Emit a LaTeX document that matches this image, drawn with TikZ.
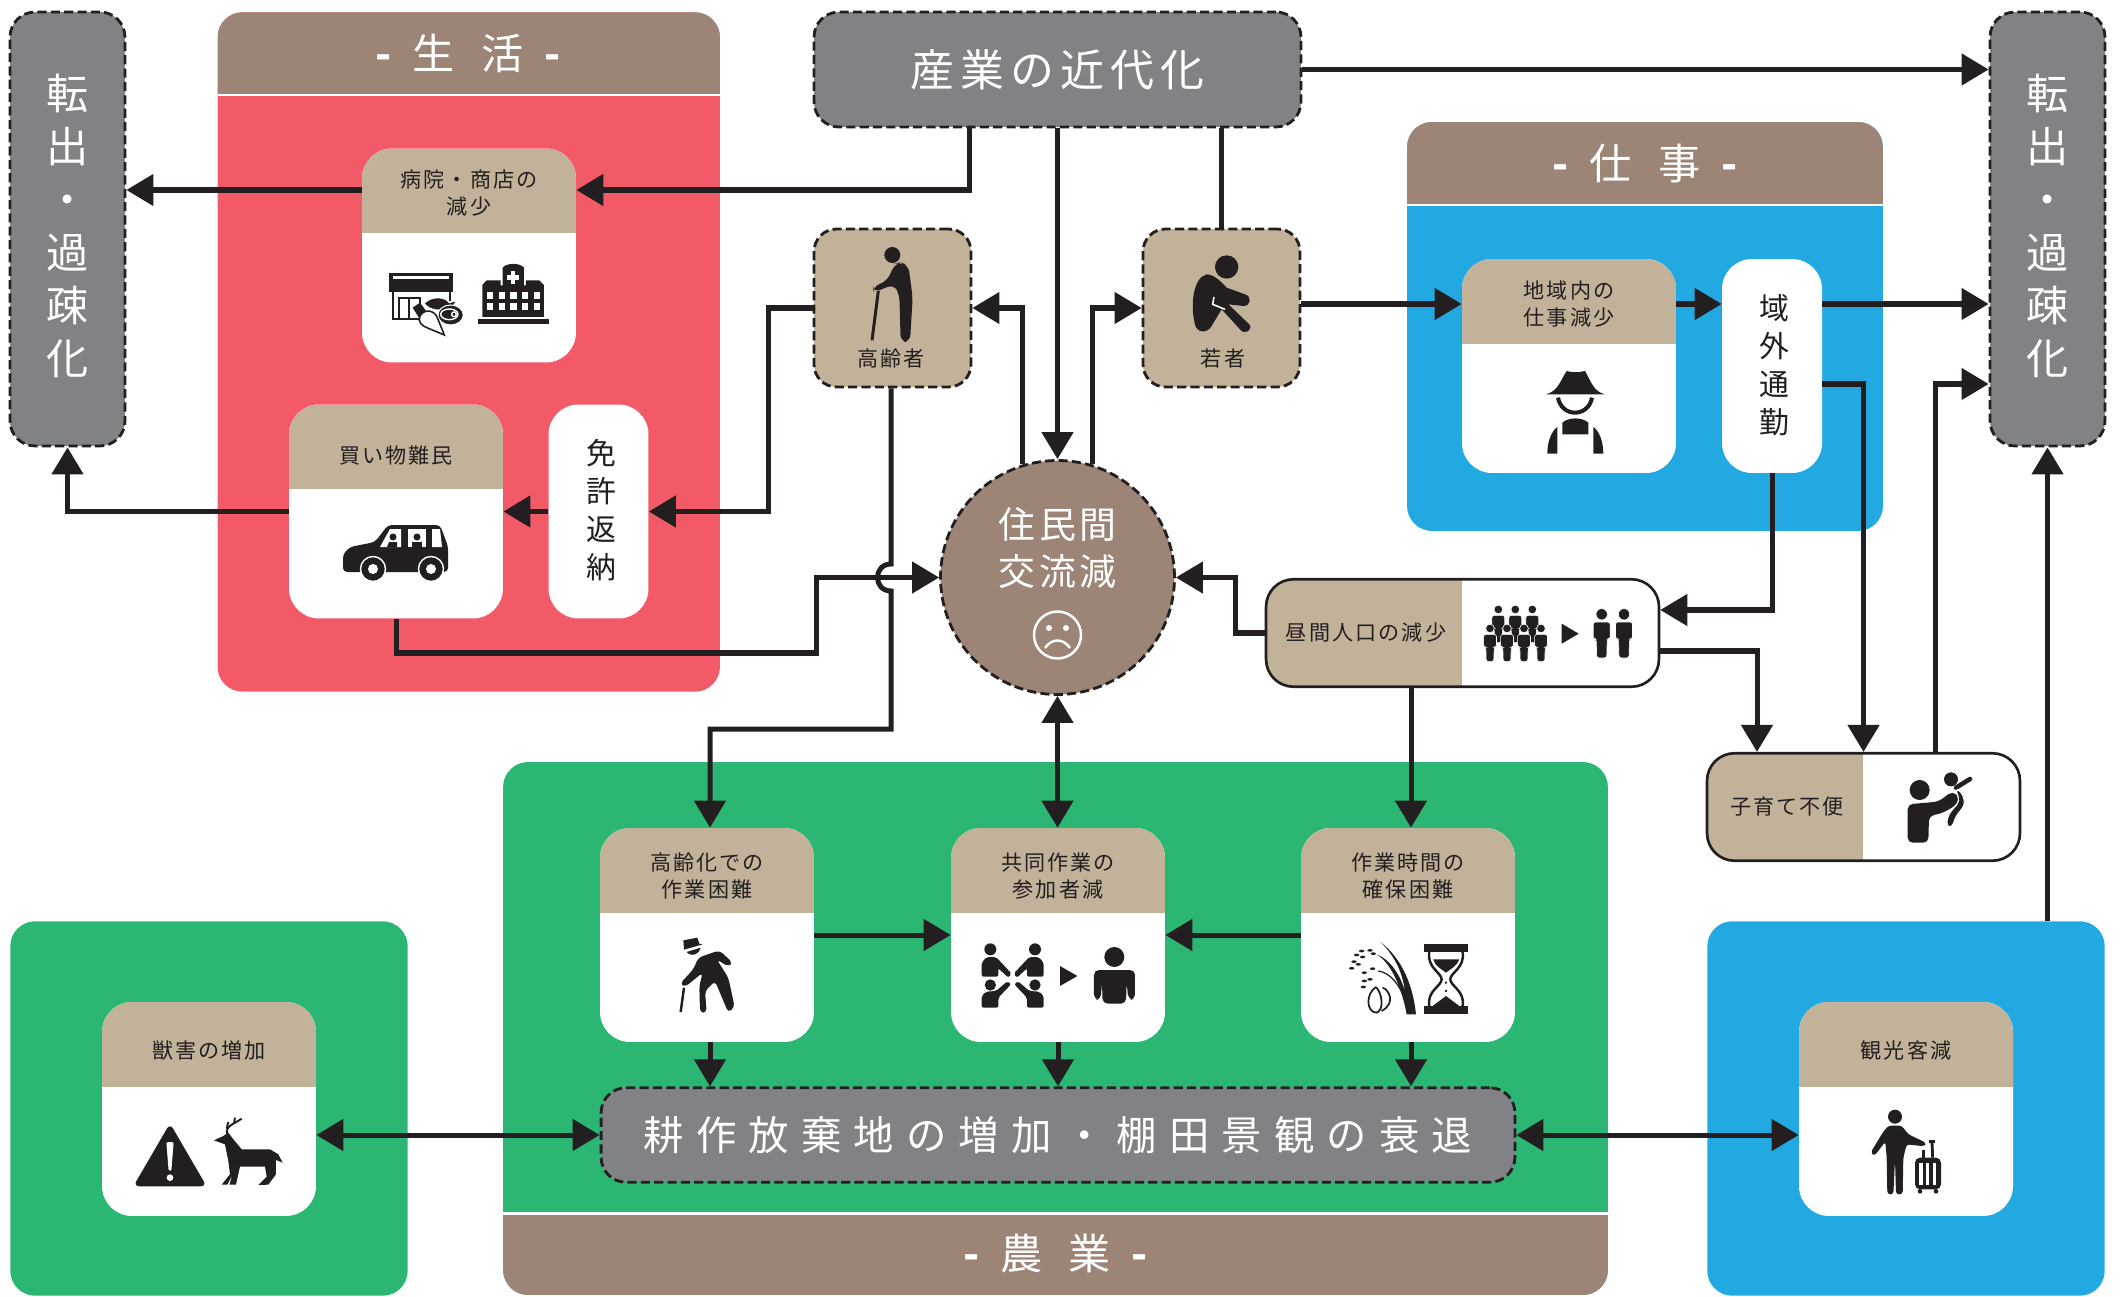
\documentclass[tikz,border=0pt]{standalone}
\usepackage{fontspec}
\setmainfont{Noto Sans CJK JP}
\usetikzlibrary{arrows.meta}

\definecolor{ink}{HTML}{231F20}
\definecolor{redbox}{HTML}{F25A67}
\definecolor{greenbox}{HTML}{2BB673}
\definecolor{bluebox}{HTML}{23A9E1}
\definecolor{bandbrown}{HTML}{9C8577}
\definecolor{cardtan}{HTML}{C2B299}
\definecolor{greybox}{HTML}{808285}

\newcommand{\jpfont}[2]{\fontsize{#1}{#2}\selectfont\addfontfeature{LetterSpace = 10}}
\newcommand{\bandline}[2]{{\bfseries -}\hspace{0.5em}#1\hspace{0.62em}#2\hspace{0.5em}{\bfseries -}}

\tikzset{
	wire/.style = {line width = 2.85pt, color = ink},
	panel/.style = {rectangle, rounded corners = 0.5cm, inner sep = 0},
	topband/.style = {path picture = {
		\fill [bandbrown, sharp corners] (path picture bounding box.north west) rectangle ([yshift = -1.63cm] path picture bounding box.north east);
		\fill [white, sharp corners] ([yshift = -1.63cm] path picture bounding box.north west) rectangle ([yshift = -1.68cm] path picture bounding box.north east);
	}},
	bottomband/.style = {path picture = {
		\fill [bandbrown, sharp corners] (path picture bounding box.south west) rectangle ([yshift = 1.6cm] path picture bounding box.south east);
		\fill [white, sharp corners] ([yshift = 1.6cm] path picture bounding box.south west) rectangle ([yshift = 1.66cm] path picture bounding box.south east);
	}},
	card/.style = {rectangle, rounded corners = 0.6cm, inner sep = 0, fill = white, minimum width = 4.28cm, minimum height = 4.28cm, path picture = {
		\fill [cardtan, sharp corners] (path picture bounding box.north west) rectangle ([yshift = -1.69cm] path picture bounding box.north east);
	}},
	slim/.style = {rectangle, rounded corners = 0.6cm, inner sep = 0, fill = white, minimum width = 2cm, minimum height = 4.28cm},
	slimtext/.style = {text = ink, align = center, inner sep = 0, font = \jpfont{17}{21.6}},
	cardtext/.style = {align = center, text = ink, inner sep = 0, font = \jpfont{12}{15.4}},
	bandtext/.style = {text = white, inner sep = 0, font = \jpfont{24}{28}},
	dashbox/.style = {draw = ink, line width = 1.6pt, dash pattern = on 5.2pt off 2.4pt, rounded corners = 0.5cm, inner sep = 0},
	greyflag/.style = {dashbox, rectangle, fill = greybox, text = white},
	exitbox/.style = {greyflag, minimum width = 2.3cm, minimum height = 8.68cm},
	exittext/.style = {text = white, align = center, inner sep = 0, font = \jpfont{24}{30.2}},
	persontag/.style = {dashbox, rectangle, fill = cardtan, minimum width = 3.14cm, minimum height = 3.16cm, rounded corners = 0.45cm},
	splitbox/.style = {rectangle, draw = ink, line width = 1.5pt, rounded corners = 0.55cm, inner sep = 0, fill = white, minimum height = 2.15cm, path picture = {
		\fill [cardtan, sharp corners] (path picture bounding box.north west) rectangle ([xshift = #1] path picture bounding box.south west);
	}},
	folk/.pic = {
		\fill [ink, draw = white, line width = 0.35pt] (0, -7.7) circle [radius = 5.7];
		\fill [ink, draw = white, line width = 0.35pt, rounded corners = 0.05cm] (-8.5, 0) -- (8.5, 0) -- (8.5, 17) -- (5.5, 17) -- (5, 36) -- (-5, 36) -- (-5.5, 17) -- (-8.5, 17) -- cycle;
	},
}

\begin{document}
\begin{tikzpicture}[x = 0.02cm, y = -0.02cm, > = {Triangle[length = 15.4pt, width = 17.6pt]}]

	\useasboundingbox (0, -1) rectangle (2123, 1296);

	% Coloured areas

	\node (seikatsu) [panel, fill = redbox, topband, minimum width = 10.05cm, minimum height = 13.59cm] at (468.75, 351) {};
	\node (shigoto) [panel, fill = bluebox, topband, minimum width = 9.52cm, minimum height = 8.18cm] at (1645, 325.5) {};
	\node (nougyou) [panel, fill = greenbox, bottomband, minimum width = 22.1cm, minimum height = 10.66cm] at (1055.5, 1027.5) {};
	\node (juugaiarea) [panel, fill = greenbox, minimum width = 7.95cm, minimum height = 7.49cm] at (209, 1107.5) {};
	\node (kankouarea) [panel, fill = bluebox, minimum width = 7.95cm, minimum height = 7.49cm] at (1906, 1107.5) {};

	\node (seikatsutext) [bandtext] at (468, 52.5) {\bandline{生}{活}};
	\node (shigototext) [bandtext] at (1645, 162.5) {\bandline{仕}{事}};
	\node (nougyoutext) [bandtext] at (1055.5, 1252.5) {\bandline{農}{業}};

	% Outcomes and causes

	\node (exitleft) [exitbox] at (67.5, 228) {};
	\node (exitright) [exitbox] at (2047.5, 228) {};
	\node (exitlefttext) [exittext] at (67.5, 225) {転\\出\\・\\過\\疎\\化};
	\node (exitrighttext) [exittext] at (2047.5, 225) {転\\出\\・\\過\\疎\\化};
	\node (sangyo) [greyflag, minimum width = 9.74cm, minimum height = 2.3cm, font = \jpfont{25}{30}] at (1057.5, 68.5) {\addfontfeature{LetterSpace = 14}産業の近代化};
	\node (kousaku) [greyflag, minimum width = 18.28cm, minimum height = 1.89cm, font = \jpfont{23}{28}] at (1058, 1134) {\addfontfeature{LetterSpace = 30}耕作放棄地の増加・棚田景観の衰退};
	\node (kouryuu) [dashbox, circle, fill = bandbrown, minimum size = 4.68cm] at (1057.5, 576.5) {};
	\node (kouryuutext) [text = white, align = center, inner sep = 0, font = \jpfont{21}{26.8}] at (1057.5, 547) {住民間\\交流減};

	% Sad face

	\draw [white, line width = 1.4pt] (1057.5, 634) circle [radius = 23.5];
	\fill [white] (1049, 627) circle [radius = 3];
	\fill [white] (1066, 627) circle [radius = 3];
	\draw [white, line width = 1.4pt] (1045, 647) .. controls (1052, 637) and (1063, 637) .. (1070, 647);

	% People

	\node (koureisha) [persontag] at (892.5, 307) {};
	\node (wakamono) [persontag] at (1221.5, 307) {};
	\node (koureishatext) [cardtext] at (891, 357) {高齢者};
	\node (wakamonotext) [cardtext] at (1223, 357) {若者};

	% Cards

	\node (hospital) [card] at (469, 254.5) {};
	\node (kaimono) [card] at (396, 510.5) {};
	\node (chiiki) [card] at (1569, 365) {};
	\node (koureika) [card] at (707, 934) {};
	\node (kyoudou) [card] at (1058, 934) {};
	\node (sagyou) [card] at (1408, 934) {};
	\node (juugai) [card] at (209, 1108) {};
	\node (kankou) [card] at (1906, 1108) {};
	\node (menkyo) [slim] at (598.5, 510.5) {};
	\node (ikigai) [slim] at (1772, 365) {};
	\node (hiruma) [splitbox = 3.92cm, minimum width = 7.86cm] at (1462.5, 632) {};
	\node (kosodate) [splitbox = 3.12cm, minimum width = 6.26cm] at (1863.5, 806) {};

	\node (menkyotext) [slimtext] at (601, 509) {免\\許\\返\\納};
	\node (ikigaitext) [slimtext] at (1774, 364) {域\\外\\通\\勤};
	\node (hospitaltext) [cardtext] at ([shift = {(0, 45)}] hospital.north) {病院・商店の\\減少};
	\node (kaimonotext) [cardtext] at ([shift = {(0, 51)}] kaimono.north) {買い物難民};
	\node (chiikitext) [cardtext] at ([shift = {(0, 45)}] chiiki.north) {地域内の\\仕事減少};
	\node (koureikatext) [cardtext] at ([shift = {(0, 48)}] koureika.north) {高齢化での\\作業困難};
	\node (kyoudoutext) [cardtext] at ([shift = {(0, 48)}] kyoudou.north) {共同作業の\\参加者減};
	\node (sagyoutext) [cardtext] at ([shift = {(0, 48)}] sagyou.north) {作業時間の\\確保困難};
	\node (juugaitext) [cardtext] at ([shift = {(0, 49)}] juugai.north) {獣害の増加};
	\node (kankoutext) [cardtext] at ([shift = {(0, 49)}] kankou.north) {観光客減};
	\node (hirumatext) [cardtext] at (1366, 632) {昼間人口の減少};
	\node (kosodatetext) [cardtext] at (1787, 806) {子育て不便};

	% Helpers for the connectors

	\coordinate (rowshop) at (0, 189);
	\coordinate (rowwork) at (0, 303);
	\coordinate (rowcommute) at (0, 383);
	\coordinate (rowkids) at (0, 650);
	\coordinate (rowday) at (0, 609);
	\coordinate (rowlow) at (0, 652);
	\coordinate (rowfarm) at (0, 728);
	\coordinate (colshop) at (969, 0);
	\coordinate (colelder) at (768.5, 0);
	\coordinate (colmid) at (816, 0);
	\coordinate (colday) at (1235, 0);
	\coordinate (colkids) at (1757, 0);
	\coordinate (colback) at (1935, 0);
	\coordinate (colold) at (710, 0);
	\coordinate (coltime) at (1411, 0);
	\coordinate (hoptop) at (891, 563);
	\coordinate (hopbot) at (891, 590);

	% Connectors

	\begin{scope}[wire, ->]

		\draw (sangyo.east) -- (exitright.west |- sangyo.east);
		\draw (sangyo.south -| colshop) |- (hospital.east |- rowshop);
		\draw (hospital.west |- rowshop) -- (exitleft.east |- rowshop);
		\draw (koureisha.west) -- (colelder |- koureisha.west) -- (colelder |- menkyo.east) -- (menkyo.east);
		\draw (menkyo.west) -- (kaimono.east);
		\draw (kaimono.west) -| (exitleft.south);
		\draw (kaimono.south) |- (colmid |- rowlow) -- (colmid |- kouryuu.west) -- (kouryuu.west);
		\draw (hoptop |- koureisha.south) -- (hoptop) .. controls ([xshift = -0.36cm] hoptop) and ([xshift = -0.36cm] hopbot) .. (hopbot) -- (hopbot |- rowfarm) -- (colold |- rowfarm) -- (colold |- koureika.north);
		\draw (sangyo.south) -- (kouryuu.north);
		\draw (kouryuu.107) -- (kouryuu.107 |- koureisha.east) -- (koureisha.east);
		\draw (kouryuu.73) -- (kouryuu.73 |- wakamono.west) -- (wakamono.west);
		\draw (wakamono.east |- rowwork) -- (chiiki.west |- rowwork);
		\draw (chiiki.east |- rowwork) -- (ikigai.west |- rowwork);
		\draw (ikigai.east |- rowwork) -- (exitright.west |- rowwork);
		\draw (ikigai.east |- rowcommute) -| (kosodate.north);
		\draw (ikigai.south) |- (hiruma.east |- rowday);
		\draw (hiruma.east |- rowkids) -| (colkids |- kosodate.north);
		\draw (colback |- kosodate.north) |- (exitright.west |- rowcommute);
		\draw (exitright.south |- kankouarea.north) -- (exitright.south);
		\draw (hiruma.west) -- (colday |- hiruma.west) -- (colday |- kouryuu.east) -- (kouryuu.east);
		\draw (coltime |- hiruma.south) -- (coltime |- sagyou.north);
		\draw (koureika.east) -- (kyoudou.west);
		\draw (sagyou.west) -- (kyoudou.east);
		\draw (colold |- koureika.south) -- (colold |- kousaku.north);
		\draw (kyoudou.south) -- (kyoudou.south |- kousaku.north);
		\draw (coltime |- sagyou.south) -- (coltime |- kousaku.north);

	\end{scope}

	\begin{scope}[wire, <->]

		\draw (kouryuu.south) -- (kouryuu.south |- kyoudou.north);
		\draw (juugai.east |- kousaku.west) -- (kousaku.west);
		\draw (kousaku.east) -- (kankou.west |- kousaku.east);

	\end{scope}

	\draw [wire] (sangyo.south -| wakamono.north) -- (wakamono.north);

	% Store with food

	\begin{scope}[shift = {(340, 250)}, scale = 0.3333]

		\fill [ink] (148, 66) rectangle (338, 122);
		\fill [white] (158, 76) rectangle (328, 84);
		\draw [ink, line width = 1.1pt] (158, 122) -- (158, 205) -- (240, 205);
		\draw [ink, line width = 1.1pt] (178, 205) -- (178, 142) -- (240, 142) -- (240, 205);
		\draw [ink, line width = 1.1pt] (208, 142) -- (208, 205);
		\draw [ink, line width = 1.1pt] (330, 122) -- (330, 150);
		\fill [ink, draw = white, line width = 0.6pt] (252, 158) .. controls (270, 135) and (315, 135) .. (328, 155) -- (350, 148) -- (342, 162) -- (348, 178) -- (325, 170) .. controls (305, 182) and (272, 180) .. (252, 158) -- cycle;
		\fill [ink, draw = white, line width = 0.6pt] (332, 192) circle [x radius = 38, y radius = 30];
		\draw [white, line width = 0.8pt] (328, 190) circle [x radius = 26, y radius = 16];
		\draw [white, line width = 0.8pt] (342, 190) circle [radius = 7];
		\fill [ink] (218, 170) -- (240, 155) -- (262, 185) -- (240, 205) -- cycle;
		\draw [ink, fill = white, line width = 0.9pt] (240, 195) .. controls (255, 170) and (285, 180) .. (292, 200) -- (313, 252) -- (265, 232) .. controls (245, 225) and (232, 212) .. (240, 195) -- cycle;

	\end{scope}

	% Hospital

	\begin{scope}[shift = {(340, 250)}, scale = 0.3333]

		\fill [ink] (414, 204) rectangle (626, 218);
		\fill [ink] (427, 198) -- (427, 102) -- (440, 88) -- (482, 88) -- (482, 103) -- (558, 103) -- (558, 88) -- (598, 88) -- (612, 102) -- (612, 198) -- cycle;
		\fill [ink] (488, 110) -- (488, 50) .. controls (500, 35) and (540, 35) .. (552, 50) -- (552, 110) -- cycle;
		\fill [white] (512, 60) rectangle (526, 98);
		\fill [white] (500, 72) rectangle (538, 86);

		\foreach \col in {441, 476, 511, 546, 581} {
			\fill [white] (\col, 124) rectangle ++(19, 20);
			\fill [white] (\col, 157) rectangle ++(19, 20);
		}

	\end{scope}

	% Car

	\fill [ink, rounded corners = 0.08cm] (343, 571) -- (343, 553) -- (350, 546) -- (375, 541) -- (388, 524) -- (440, 524) -- (448, 545) -- (448, 571) -- cycle;
	\fill [white] (380, 546) -- (390, 528) -- (401, 528) -- (401, 546) -- cycle;
	\fill [white] (408, 528) rectangle (426, 546);
	\fill [white] (432, 528) -- (440, 528) -- (442, 546) -- (432, 546) -- cycle;
	\fill [ink] (393, 536) circle [radius = 3.5];
	\fill [ink] (387, 546) -- (389, 541) -- (397, 541) -- (397, 546) -- cycle;
	\fill [ink] (417, 536) circle [radius = 3.5];
	\fill [ink] (412, 546) -- (412, 541) -- (422, 541) -- (422, 546) -- cycle;

	\foreach \col in {373, 431} {
		\fill [ink, draw = white, line width = 0.8pt] (\col, 568) circle [radius = 12.5];
		\fill [white] (\col, 568) circle [radius = 5];
	}

	% Elderly person with a stick

	\begin{scope}[shift = {(860, 240)}, scale = 0.3333]

		\fill [ink] (97, 42) circle [radius = 24];
		\fill [ink, rounded corners = 0.14cm] (120, 64) -- (145, 72) -- (158, 170) -- (150, 303) -- (122, 303) -- (118, 160) -- (102, 130) -- (40, 155) -- (40, 135) -- (80, 122) -- (105, 68) -- cycle;
		\draw [ink, line width = 1.7pt] (55, 150) -- (36, 298);

	\end{scope}

	% Young person sitting

	\begin{scope}[shift = {(860, 240)}, scale = 0.3333]

		\fill [ink] (1100, 78) circle [radius = 35];
		\fill [ink] (1040, 100) .. controls (1065, 100) and (1090, 130) .. (1100, 140) -- (1155, 160) .. controls (1175, 165) and (1175, 195) .. (1150, 195) -- (1105, 190) -- (1168, 250) .. controls (1180, 265) and (1155, 285) .. (1140, 265) -- (1085, 205) -- (1055, 255) .. controls (1040, 280) and (1010, 275) .. (1005, 250) .. controls (990, 190) and (1000, 110) .. (1040, 100) -- cycle;
		\draw [white, line width = 0.9pt] (1062, 168) -- (1058, 190) -- (1095, 205);

	\end{scope}

	% Farmer

	\begin{scope}[shift = {(1470, 360)}, scale = 0.3333]

		\fill [ink] (228, 100) .. controls (265, 90) and (270, 60) .. (290, 30) .. controls (305, 35) and (325, 35) .. (345, 30) .. controls (365, 65) and (370, 90) .. (404, 100) -- cycle;
		\draw [ink, line width = 2.3pt] (264, 110) .. controls (275, 170) and (355, 170) .. (366, 110);
		\fill [ink] (277, 220) -- (277, 185) .. controls (295, 168) and (337, 168) .. (355, 185) -- (355, 220) -- cycle;
		\fill [ink] (232, 278) .. controls (232, 240) and (245, 210) .. (262, 198) -- (262, 278) -- cycle;
		\fill [ink] (400, 278) .. controls (400, 240) and (387, 210) .. (370, 198) -- (370, 278) -- cycle;

	\end{scope}

	% Fewer people in daytime

	\foreach \col in {1498.3, 1515.3, 1532.3} {
		\pic at (\col, 614.3) [scale = 0.76] {folk};
	}

	\foreach \col in {1490, 1507, 1524, 1541} {
		\pic at (\col, 633.3) [scale = 0.76] {folk};
	}

	\fill [ink] (1561.7, 622.7) -- (1578.7, 632.7) -- (1561.7, 642.7) -- cycle;
	\pic at (1601.7, 621) {folk};
	\pic at (1624, 621) {folk};

	% Parent lifting a child

	\begin{scope}[shift = {(1860, 760)}, scale = 0.3333]

		\fill [ink] (179, 87) circle [radius = 30];
		\fill [ink, rounded corners = 0.1cm] (143, 245) -- (143, 130) -- (235, 122) -- (278, 90) -- (300, 112) -- (285, 135) -- (245, 157) -- (207, 165) -- (205, 245) -- cycle;
		\fill [ink] (273, 55) circle [radius = 21];
		\draw [ink, line width = 2.6pt, line cap = round] (288, 80) -- (330, 54);
		\fill [ink, draw = white, line width = 0.6pt, rounded corners = 0.1cm] (285, 82) -- (305, 92) -- (316, 130) -- (285, 170) -- (278, 200) -- (258, 198) -- (265, 160) -- (300, 120) -- cycle;

	\end{scope}

	% Bent elderly person

	\begin{scope}[shift = {(660, 930)}, scale = 0.3333]

		\fill [ink] (72, 56) -- (70, 28) -- (112, 20) -- (118, 38) -- (128, 40) -- cycle;
		\fill [ink] (80, 63) -- (122, 50) .. controls (118, 70) and (95, 80) .. (80, 63) -- cycle;
		\fill [ink, rounded corners = 0.08cm] (115, 80) -- (178, 58) -- (218, 95) -- (205, 107) -- (170, 85) -- (205, 140) -- (224, 228) -- (205, 245) -- (165, 150) -- (135, 180) -- (140, 245) -- (120, 245) -- (118, 165) -- (128, 125) -- (75, 168) -- (60, 158) -- (100, 115) -- cycle;
		\draw [ink, line width = 1.4pt] (72, 170) -- (62, 243);

	\end{scope}

	% Fewer people working together

	\begin{scope}[shift = {(960, 930)}, scale = 0.3333]

		\foreach \side in {1, -1} {
			\begin{scope}[shift = {(158, 0)}, xscale = \side]

				\fill [ink] (-67, 55) circle [radius = 18];
				\fill [ink, rounded corners = 0.04cm] (-93, 137) -- (-93, 95) -- (-78, 78) -- (-50, 78) -- (-3, 128) -- (-13, 140) -- (-43, 112) -- (-43, 137) -- cycle;
				\fill [ink] (-67, 162) circle [radius = 17];
				\fill [ink, rounded corners = 0.04cm] (-93, 230) -- (-93, 195) -- (-80, 182) -- (-50, 180) -- (-15, 150) -- (-5, 160) -- (-43, 200) -- (-43, 230) -- cycle;

			\end{scope}
		}

		\fill [ink] (300, 105) -- (352, 135) -- (300, 165) -- cycle;
		\fill [ink] (463, 78) circle [radius = 30];
		\fill [ink, rounded corners = 0.1cm] (402, 206) -- (402, 117) -- (525, 117) -- (525, 206) -- (505, 206) -- (500, 155) -- (498, 218) -- (428, 218) -- (426, 155) -- (422, 206) -- cycle;

	\end{scope}

	% Rice and hourglass

	\begin{scope}[shift = {(960, 930)}, scale = 0.3333]

		\foreach \col/\row in {1190/72, 1205/60, 1230/58, 1182/92, 1208/78, 1240/68, 1175/112, 1195/100, 1213/125, 1238/113, 1213/150, 1230/145, 1210/168} {
			\fill [ink] (\col, \row) circle [x radius = 8, y radius = 4];
		}

		\fill [ink] (1260, 32) .. controls (1330, 85) and (1360, 170) .. (1368, 250) -- (1340, 250) .. controls (1330, 190) and (1300, 100) .. (1250, 70) .. controls (1290, 85) and (1320, 130) .. (1335, 180) .. controls (1325, 110) and (1295, 65) .. (1260, 32) -- cycle;
		\draw [ink, line width = 0.7pt] (1255, 120) .. controls (1290, 125) and (1320, 160) .. (1335, 210);
		\draw [ink, line width = 1pt] (1248, 168) .. controls (1215, 190) and (1220, 245) .. (1250, 245) .. controls (1275, 235) and (1265, 185) .. (1248, 168);
		\draw [ink, line width = 1pt] (1268, 170) .. controls (1285, 175) and (1310, 215) .. (1265, 240);
		\fill [ink] (1393, 40) rectangle (1523, 63);
		\fill [ink] (1393, 225) rectangle (1523, 248);
		\draw [ink, line width = 1.4pt] (1408, 63) .. controls (1400, 110) and (1445, 125) .. (1445, 145) .. controls (1445, 165) and (1400, 180) .. (1408, 225);
		\draw [ink, line width = 1.4pt] (1508, 63) .. controls (1516, 110) and (1471, 125) .. (1471, 145) .. controls (1471, 165) and (1516, 180) .. (1508, 225);
		\fill [ink] (1420, 85) -- (1498, 85) .. controls (1492, 105) and (1470, 115) .. (1458, 125) .. controls (1446, 115) and (1424, 105) .. (1420, 85) -- cycle;
		\fill [ink] (1418, 225) -- (1458, 195) -- (1498, 225) -- cycle;
		\fill [ink] (1458, 155) circle [radius = 4];
		\fill [ink] (1458, 180) circle [radius = 4];

	\end{scope}

	% Warning sign and deer

	\begin{scope}[shift = {(120, 1105)}, scale = 0.3333]

		\fill [ink, rounded corners = 0.12cm] (150, 52) -- (260, 241) -- (40, 241) -- cycle;
		\fill [white, rounded corners = 0.03cm] (139, 108) -- (161, 108) -- (154, 195) -- (146, 195) -- cycle;
		\fill [white] (150, 215) circle [radius = 10];
		\fill [ink] (282, 103) -- (310, 90) -- (325, 80) -- (340, 100) -- (365, 130) -- (450, 130) -- (475, 145) -- (488, 170) -- (468, 162) -- (468, 205) -- (445, 236) -- (415, 237) -- (440, 212) -- (435, 182) -- (360, 182) -- (348, 236) -- (328, 236) -- (338, 205) -- (322, 236) -- (305, 236) -- (330, 205) -- (325, 165) -- (315, 115) -- cycle;
		\draw [ink, line width = 1.1pt] (322, 85) .. controls (315, 60) and (340, 55) .. (365, 38);
		\draw [ink, line width = 1.1pt] (342, 53) -- (345, 35);
		\draw [ink, line width = 1.1pt] (320, 68) -- (325, 48);

	\end{scope}

	% Traveller with a suitcase

	\begin{scope}[shift = {(1860, 1100)}, scale = 0.3333]

		\fill [ink] (105, 47) circle [radius = 21];
		\fill [ink, rounded corners = 0.06cm] (85, 74) -- (125, 74) -- (145, 100) -- (198, 125) -- (194, 136) -- (140, 130) -- (130, 170) -- (128, 280) -- (108, 280) -- (105, 175) -- (100, 280) -- (82, 280) -- (80, 170) -- (76, 122) -- (43, 165) -- (32, 155) -- (68, 95) -- cycle;
		\fill [ink, rounded corners = 0.1cm] (165, 170) rectangle (243, 265);
		\fill [white] (178, 186) rectangle (188, 252);
		\fill [white] (198, 186) rectangle (208, 252);
		\fill [white] (218, 186) rectangle (228, 252);
		\fill [ink] (180, 271) circle [radius = 7];
		\fill [ink] (228, 271) circle [radius = 7];
		\draw [ink, line width = 1.6pt] (216, 122) -- (218, 170);
		\draw [ink, line width = 1.6pt] (208, 122) -- (224, 122);
		\draw [ink, line width = 1.6pt] (190, 146) -- (190, 170);

	\end{scope}

\end{tikzpicture}
\end{document}
